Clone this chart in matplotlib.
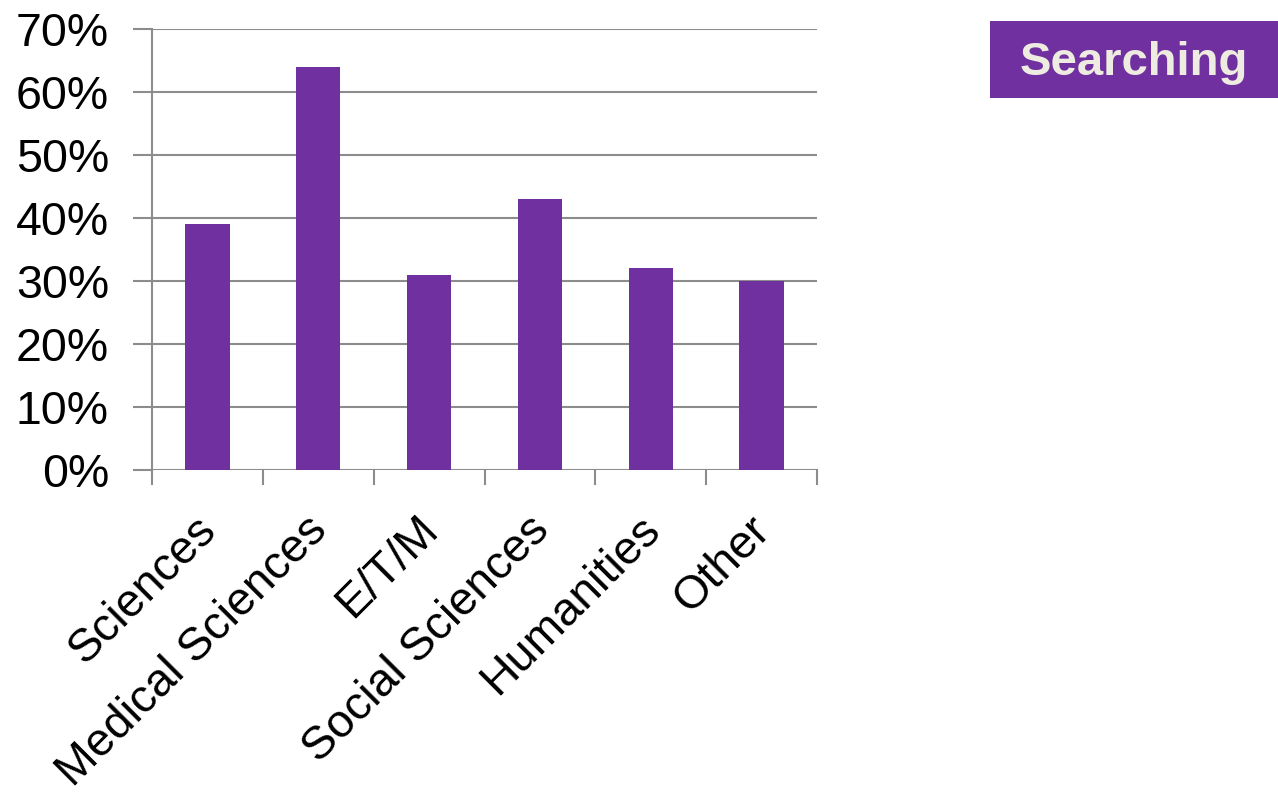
import matplotlib.pyplot as plt
from matplotlib.patches import Rectangle
from matplotlib.ticker import FuncFormatter, MultipleLocator
from matplotlib.transforms import ScaledTranslation

# data
categories = ["Sciences", "Medical Sciences", "E/T/M", "Social Sciences", "Humanities", "Other"]
values = [39, 64, 31, 43, 32, 30]
legend_label = "Searching"

PURPLE = "#7030A0"
GRID = "#8c8c8c"

plt.rcParams["font.family"] = ["Liberation Sans", "DejaVu Sans"]

fig = plt.figure(figsize=(12.78, 7.93), dpi=100)
ax = fig.add_axes([152 / 1278, 1 - 470 / 793, (817 - 152) / 1278, (470 - 29) / 793])

x = list(range(len(categories)))
ax.bar(x, values, width=0.4, color=PURPLE, zorder=3)

ax.set_xlim(-0.5, len(categories) - 0.5)
ax.set_ylim(0, 70)
ax.yaxis.set_major_locator(MultipleLocator(10))
ax.yaxis.set_major_formatter(FuncFormatter(lambda v, _: f"{v:.0f}%"))
ax.grid(axis="y", color=GRID, linewidth=1.5, zorder=0)

for side in ["top", "right", "bottom"]:
    ax.spines[side].set_visible(False)
ax.spines["left"].set_color(GRID)
ax.spines["left"].set_linewidth(1.5)

# y ticks extend left like the gridlines
ax.tick_params(axis="y", length=14, width=1.5, color=GRID, labelsize=33.5, pad=17)

# category labels, with boundary ticks between categories
ax.set_xticks(x)
ax.set_xticklabels(categories, rotation=45, ha="right", rotation_mode="anchor", fontsize=33.5)
ax.tick_params(axis="x", length=0, pad=27)
shift = ScaledTranslation(-13 / 100, 0, fig.dpi_scale_trans)
for lbl in ax.get_xticklabels():
    lbl.set_transform(lbl.get_transform() + shift)

bounds = [i - 0.5 for i in range(len(categories) + 1)]
for b in bounds:
    ax.plot([b, b], [0, -2.3], color=GRID, linewidth=1.5, clip_on=False, zorder=2)

# legend box at top right
fig.patches.append(Rectangle((990 / 1278, 1 - 98 / 793), (1278 - 990) / 1278, 77 / 793,
                             transform=fig.transFigure, facecolor=PURPLE, edgecolor="none"))
fig.text(1134 / 1278, 1 - 75 / 793, legend_label, ha="center", va="baseline",
         fontsize=34, fontweight="bold", color="#EEECE1")

fig.savefig("out.png", dpi=100)
